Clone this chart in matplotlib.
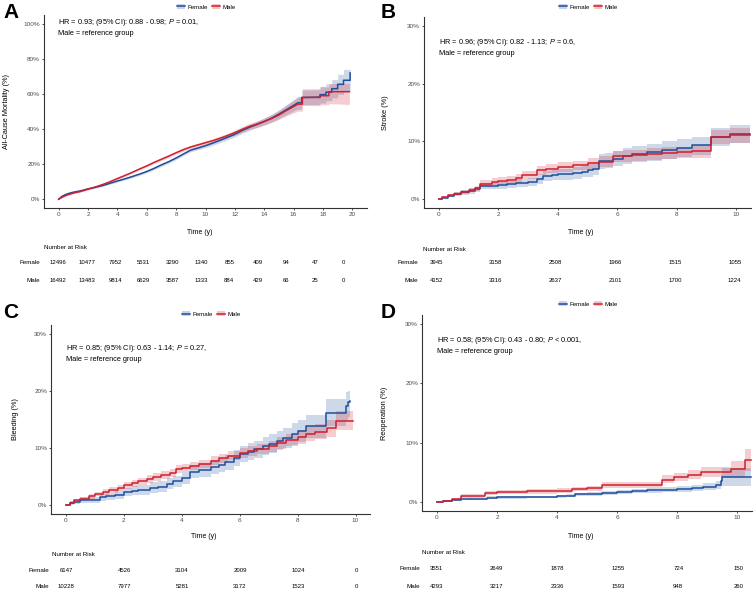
import matplotlib
matplotlib.use('Agg')
import matplotlib.pyplot as plt
from matplotlib.lines import Line2D
from matplotlib.patches import Patch
from matplotlib.legend_handler import HandlerTuple
from matplotlib.transforms import blended_transform_factory

plt.rcParams.update({
    'font.family': 'Liberation Sans',
    'mathtext.fontset': 'custom',
    'mathtext.rm': 'Liberation Sans',
    'mathtext.it': 'Liberation Sans:italic',
})

W, H = 756, 598
BLUE = '#1F4E9D'
RED = '#D01F2E'
GREY = '#4D4D4D'
SPINE = '#333333'

# ── Panel A: all-cause mortality (dense curve, drawn as a line) ──
a_ft = [0, 0.2, 0.5, 0.8, 1.0, 1.5, 2.0, 2.5, 3.0, 3.5, 4.0, 4.5, 5.0, 5.5,
        6.0, 6.5, 7.0, 7.5, 8.0, 8.5, 9.0, 9.5, 10.0, 10.5, 11.0, 11.5, 12.0,
        12.5, 13.0, 13.5, 14.0, 14.5, 15.0, 15.5,
        16.0, 16.3, 16.55, 16.55, 17.8, 17.8, 18.2, 18.2, 18.6, 18.6, 19.0,
        19.0, 19.4, 19.4, 19.85, 19.85]
a_f = [0, 1.5, 2.8, 3.6, 4.0, 4.8, 5.9, 6.8, 7.8, 9.1, 10.4, 11.6, 12.9, 14.3,
       15.8, 17.6, 19.6, 21.4, 23.5, 25.8, 28.0, 29.2, 30.5, 32.0, 33.6, 35.3,
       37.0, 39.2, 41.0, 42.6, 44.3, 46.2, 48.5, 51.0,
       53.5, 55.0, 55.0, 58.0, 58.2, 59.6, 59.6, 61.0, 61.0, 63.0, 63.0,
       65.5, 65.5, 67.8, 67.8, 72.0]
a_f_lo = [0, 1.2, 2.4, 3.2, 3.6, 4.3, 5.4, 6.3, 7.3, 8.6, 9.8, 11.0, 12.2,
          13.6, 15.1, 16.8, 18.8, 20.6, 22.6, 24.9, 27.1, 28.2, 29.4, 30.8,
          32.3, 33.9, 35.5, 37.6, 39.3, 40.8, 42.3, 44.0, 46.0, 48.2,
          50.3, 51.4, 51.4, 53.8, 54.0, 54.8, 54.8, 56.2, 56.2, 57.8, 57.8,
          59.8, 59.8, 61.5, 61.5, 64.0]
a_f_hi = [0, 1.8, 3.2, 4.0, 4.4, 5.3, 6.4, 7.3, 8.3, 9.6, 11.0, 12.2, 13.6,
          15.0, 16.5, 18.4, 20.4, 22.2, 24.4, 26.7, 28.9, 30.2, 31.6, 33.2,
          34.9, 36.7, 38.5, 40.8, 42.7, 44.4, 46.3, 48.4, 51.0, 53.8,
          56.7, 58.6, 58.6, 62.2, 62.4, 64.4, 64.4, 65.8, 65.8, 68.2, 68.2,
          71.2, 71.2, 74.0, 74.0, 74.0]
a_mt = [0, 0.2, 0.5, 0.8, 1.0, 1.5, 2.0, 2.5, 3.0, 3.5, 4.0, 4.5, 5.0, 5.5,
        6.0, 6.5, 7.0, 7.5, 8.0, 8.5, 9.0, 9.5, 10.0, 10.5, 11.0, 11.5, 12.0,
        12.5, 13.0, 13.5, 14.0, 14.5, 15.0, 15.5,
        16.0, 16.3, 16.6, 16.6, 17.8, 17.8, 18.4, 18.4, 19.8]
a_m = [0, 1.0, 2.2, 3.0, 3.5, 4.5, 5.8, 7.0, 8.4, 10.0, 11.8, 13.5, 15.3, 17.2,
       19.0, 21.0, 22.8, 24.6, 26.5, 28.3, 29.8, 31.0, 32.2, 33.4, 34.8, 36.3,
       38.0, 39.8, 41.5, 42.8, 44.3, 46.0, 48.0, 50.5,
       52.8, 54.2, 54.2, 58.0, 58.0, 59.0, 59.0, 61.3, 61.3]
a_m_lo = [0, 0.8, 1.9, 2.7, 3.2, 4.1, 5.4, 6.6, 8.0, 9.6, 11.3, 13.0, 14.8,
          16.6, 18.4, 20.3, 22.1, 23.8, 25.7, 27.4, 28.9, 30.0, 31.2, 32.3,
          33.6, 35.0, 36.6, 38.2, 39.8, 41.0, 42.3, 43.8, 45.5, 47.5,
          49.2, 50.2, 50.2, 53.5, 53.3, 53.8, 53.8, 54.5, 54.0]
a_m_hi = [0, 1.2, 2.5, 3.3, 3.8, 4.9, 6.2, 7.4, 8.8, 10.4, 12.3, 14.0, 15.8,
          17.8, 19.6, 21.7, 23.5, 25.4, 27.3, 29.2, 30.7, 32.0, 33.2, 34.5,
          36.0, 37.6, 39.4, 41.4, 43.2, 44.6, 46.3, 48.2, 50.5, 53.5,
          56.4, 58.2, 58.2, 63.0, 63.0, 64.0, 64.0, 66.0, 66.0]
a_risk_t = [0, 2, 4, 6, 8, 10, 12, 14, 16, 18, 20]
a_risk_f = [12496, 10477, 7952, 5531, 3290, 1340, 855, 409, 94, 47, 0]
a_risk_m = [16492, 13483, 9814, 6629, 3587, 1333, 884, 429, 66, 25, 0]

# ── Panel B: stroke ──────────────────────────────────────────
b_ft = [0, 0.1, 0.3, 0.5, 0.75, 1.0, 1.2, 1.4, 1.8, 2.0, 2.3, 2.6, 3.0, 3.3,
        3.5, 3.8, 4.0, 4.5, 4.8, 5.0, 5.2, 5.4, 5.6, 5.85, 6.2, 6.5, 7.0, 7.5,
        8.0, 8.5, 9.15, 9.8, 10.45]
b_f = [0, 0.3, 0.6, 0.9, 1.2, 1.5, 1.7, 2.3, 2.35, 2.4, 2.6, 2.8, 3.0, 3.5,
       4.0, 4.2, 4.3, 4.5, 4.8, 5.0, 5.3, 6.6, 6.7, 7.0, 7.5, 7.8, 8.1, 8.5,
       8.9, 9.3, 10.8, 11.3, 11.3]
b_f_lo = [0, 0.2, 0.4, 0.6, 0.8, 1.0, 1.2, 1.7, 1.75, 1.8, 1.95, 2.1, 2.3,
          2.7, 3.1, 3.3, 3.4, 3.5, 3.8, 3.9, 4.2, 5.3, 5.4, 5.7, 6.1, 6.4, 6.6,
          7.0, 7.3, 7.6, 9.2, 9.7, 9.7]
b_f_hi = [0, 0.4, 0.8, 1.2, 1.6, 2.0, 2.2, 2.9, 2.95, 3.0, 3.25, 3.5, 3.7,
          4.3, 4.9, 5.1, 5.2, 5.5, 5.8, 6.1, 6.4, 7.9, 8.0, 8.3, 8.9, 9.2, 9.6,
          10.0, 10.5, 10.8, 12.4, 12.9, 12.9]
b_mt = [0, 0.1, 0.3, 0.5, 0.75, 1.0, 1.2, 1.4, 1.8, 2.0, 2.3, 2.6, 2.8, 3.3,
        3.6, 4.0, 4.5, 5.0, 5.4, 5.85, 6.2, 6.5, 7.0, 7.5, 8.0, 8.5, 9.15,
        9.8, 10.45]
b_m = [0, 0.4, 0.7, 1.0, 1.3, 1.6, 1.9, 2.7, 3.0, 3.2, 3.4, 3.6, 4.2, 5.0,
       5.3, 5.6, 5.9, 6.2, 6.5, 7.4, 7.5, 7.6, 7.8, 8.0, 8.1, 8.3, 10.8, 11.1,
       11.1]
b_m_lo = [0, 0.25, 0.5, 0.7, 0.95, 1.2, 1.45, 2.1, 2.4, 2.6, 2.8, 2.9, 3.5,
          4.2, 4.5, 4.8, 5.1, 5.3, 5.6, 6.4, 6.5, 6.6, 6.8, 7.0, 7.1, 7.2, 9.6,
          9.8, 9.8]
b_m_hi = [0, 0.55, 0.9, 1.3, 1.65, 2.0, 2.35, 3.3, 3.6, 3.8, 4.0, 4.3, 4.9,
          5.8, 6.1, 6.4, 6.7, 7.1, 7.4, 8.4, 8.5, 8.6, 8.8, 9.0, 9.1, 9.3, 12.0,
          12.4, 12.4]
b_risk_t = [0, 2, 4, 6, 8, 10]
b_risk_f = [3945, 3158, 2508, 1966, 1515, 1055]
b_risk_m = [4152, 3316, 2637, 2101, 1700, 1224]

# ── Panel C: bleeding ────────────────────────────────────────
c_ft = [0, 0.15, 0.3, 0.5, 0.6, 1.2, 1.4, 1.7, 2.0, 2.3, 2.5, 2.9, 3.2, 3.5,
        3.7, 4.0, 4.3, 4.6, 5.0, 5.3, 5.5, 5.8, 6.0, 6.3, 6.5, 6.8, 7.0, 7.3,
        7.5, 7.8, 8.0, 8.3, 8.99, 9.68, 9.75, 9.8]
c_f = [0, 0.4, 0.6, 0.9, 1.0, 1.4, 1.6, 1.9, 2.3, 2.6, 2.7, 3.1, 3.3, 3.8,
       4.2, 4.8, 5.9, 6.2, 6.7, 7.0, 7.5, 8.3, 9.0, 9.4, 9.8, 10.4, 10.8,
       11.3, 11.8, 12.5, 13.0, 13.8, 16.2, 17.3, 18.0, 18.2]
c_f_lo = [0, 0.1, 0.2, 0.4, 0.5, 0.8, 1.0, 1.2, 1.6, 1.8, 1.9, 2.2, 2.4, 2.8,
          3.2, 3.7, 4.7, 5.0, 5.5, 5.8, 6.2, 6.9, 7.6, 7.9, 8.3, 8.8, 9.2,
          9.6, 10.0, 10.6, 11.1, 11.8, 13.9, 14.8, 15.4, 15.6]
c_f_hi = [0, 0.7, 1.0, 1.4, 1.5, 2.0, 2.2, 2.6, 3.0, 3.4, 3.5, 4.0, 4.2, 4.8,
          5.2, 5.9, 7.1, 7.4, 7.9, 8.2, 8.8, 9.7, 10.4, 10.9, 11.3, 12.0, 12.4,
          13.0, 13.6, 14.4, 14.9, 15.8, 18.5, 19.8, 20.0, 20.0]
c_mt = [0, 0.15, 0.3, 0.5, 0.8, 1.0, 1.3, 1.5, 1.8, 2.0, 2.3, 2.5, 2.8, 3.0,
        3.3, 3.6, 3.8, 4.0, 4.3, 4.6, 5.0, 5.3, 5.6, 6.0, 6.3, 6.6, 7.0, 7.3,
        7.6, 8.0, 8.3, 8.6, 9.0, 9.33, 9.93]
c_m = [0, 0.5, 0.9, 1.2, 1.6, 2.0, 2.4, 2.7, 3.1, 3.5, 3.9, 4.2, 4.6, 5.0,
       5.3, 5.6, 6.3, 6.6, 6.9, 7.3, 7.8, 8.2, 8.7, 9.2, 9.5, 9.8, 10.3, 10.9,
       11.4, 12.0, 12.5, 12.9, 13.5, 14.8, 14.8]
c_m_lo = [0, 0.3, 0.6, 0.9, 1.2, 1.6, 1.9, 2.2, 2.6, 2.9, 3.3, 3.6, 3.9, 4.3,
          4.6, 4.9, 5.6, 5.9, 6.2, 6.6, 7.0, 7.4, 7.9, 8.3, 8.6, 8.9, 9.3, 9.9,
          10.3, 10.8, 11.2, 11.6, 12.0, 13.1, 13.0]
c_m_hi = [0, 0.7, 1.2, 1.5, 2.0, 2.4, 2.9, 3.2, 3.6, 4.1, 4.5, 4.8, 5.3, 5.7,
          6.0, 6.3, 7.0, 7.3, 7.6, 8.0, 8.6, 9.0, 9.5, 10.1, 10.4, 10.7, 11.3,
          11.9, 12.5, 13.2, 13.8, 14.2, 15.0, 16.5, 16.5]
c_risk_t = [0, 2, 4, 6, 8, 10]
c_risk_f = [6147, 4526, 3104, 2009, 1024, 0]
c_risk_m = [10228, 7977, 5281, 3172, 1523, 0]

# ── Panel D: reoperation ─────────────────────────────────────
d_ft = [0, 0.2, 0.5, 0.8, 1.0, 1.65, 2.0, 3.0, 4.0, 4.3, 4.6, 5.0, 5.5, 6.0,
        6.5, 7.0, 7.5, 8.0, 8.5, 8.85, 9.3, 9.45, 9.5, 10.45]
d_f = [0, 0.15, 0.3, 0.45, 0.5, 0.75, 0.8, 0.9, 1.0, 1.1, 1.3, 1.4, 1.5, 1.7,
       1.85, 2.0, 2.1, 2.2, 2.3, 2.6, 2.8, 3.6, 4.3, 4.3]
d_f_lo = [0, 0.05, 0.15, 0.3, 0.35, 0.55, 0.6, 0.7, 0.75, 0.85, 1.0, 1.1,
          1.15, 1.3, 1.45, 1.55, 1.65, 1.7, 1.8, 2.0, 2.2, 2.5, 2.7, 2.7]
d_f_hi = [0, 0.25, 0.45, 0.6, 0.65, 0.95, 1.0, 1.1, 1.25, 1.35, 1.6, 1.7,
          1.85, 2.1, 2.25, 2.45, 2.55, 2.7, 2.8, 3.2, 3.5, 4.8, 5.8, 5.8]
d_mt = [0, 0.2, 0.5, 0.8, 1.0, 1.6, 2.0, 3.0, 4.0, 4.5, 5.0, 5.5, 6.5, 7.0,
        7.5, 7.9, 8.35, 8.8, 9.5, 9.8, 10.25, 10.45]
d_m = [0, 0.2, 0.5, 1.0, 1.05, 1.6, 1.7, 1.8, 1.9, 2.2, 2.3, 2.9, 2.9, 2.9,
       3.8, 4.2, 4.6, 5.0, 5.0, 5.6, 7.1, 7.1]
d_m_lo = [0, 0.05, 0.3, 0.7, 0.75, 1.25, 1.35, 1.4, 1.5, 1.8, 1.9, 2.4, 2.4,
          2.4, 3.2, 3.5, 3.9, 4.2, 4.2, 4.3, 5.3, 5.3]
d_m_hi = [0, 0.35, 0.7, 1.3, 1.35, 1.95, 2.05, 2.2, 2.3, 2.6, 2.7, 3.4, 3.4,
          3.4, 4.5, 4.9, 5.4, 5.9, 5.9, 7.0, 9.0, 9.0]
d_risk_t = [0, 2, 4, 6, 8, 10]
d_risk_f = [3551, 2649, 1878, 1255, 724, 150]
d_risk_m = [4293, 3217, 2336, 1593, 948, 260]

# layout per panel, in pixels of the 756x598 canvas
panels = [
    dict(letter='A', box=(44, 15, 367, 208), xlim=(-1, 21), xticks=range(0, 21, 2),
         ylim=(-5, 105), yticks=range(0, 101, 20), ylabel='All-Cause Mortality (%)',
         ylab_x=10, letter_xy=(3, 13), legend_xy=(206, 7), step=False,
         hr='HR = 0.93; (95% CI): 0.88 - 0.98; $P$ = 0.01,', hr_xy=(58, 23),
         xlab_xy=(200, 232), nar_xy=(44, 248), rows_y=(263, 281), row_lab_x=40,
         tab_px=(58.3, 343.3),
         f=(a_ft, a_f, a_f_lo, a_f_hi), m=(a_mt, a_m, a_m_lo, a_m_hi),
         risk=(a_risk_t, a_risk_f, a_risk_m)),
    dict(letter='B', box=(424, 17, 751, 208), xlim=(-0.5, 10.5), xticks=range(0, 11, 2),
         ylim=(-1.5, 31.5), yticks=range(0, 31, 10), ylabel='Stroke (%)',
         ylab_x=389, letter_xy=(381, 13), legend_xy=(588, 7), step=True,
         hr='HR = 0.96; (95% CI): 0.82 - 1.13; $P$ = 0.6,', hr_xy=(439, 43),
         xlab_xy=(581, 232), nar_xy=(423, 249), rows_y=(263, 281), row_lab_x=418,
         tab_px=(436.3, 734.7),
         f=(b_ft, b_f, b_f_lo, b_f_hi), m=(b_mt, b_m, b_m_lo, b_m_hi),
         risk=(b_risk_t, b_risk_f, b_risk_m)),
    dict(letter='C', box=(51, 325, 370, 514), xlim=(-0.5, 10.5), xticks=range(0, 11, 2),
         ylim=(-1.5, 31.5), yticks=range(0, 31, 10), ylabel='Bleeding (%)',
         ylab_x=19, letter_xy=(3, 313), legend_xy=(211, 314), step=True,
         hr='HR = 0.85; (95% CI): 0.63 - 1.14; $P$ = 0.27,', hr_xy=(66, 349),
         xlab_xy=(204, 537), nar_xy=(52, 554), rows_y=(570, 586), row_lab_x=49,
         tab_px=(66, 356),
         f=(c_ft, c_f, c_f_lo, c_f_hi), m=(c_mt, c_m, c_m_lo, c_m_hi),
         risk=(c_risk_t, c_risk_f, c_risk_m)),
    dict(letter='D', box=(422, 315, 752, 511), xlim=(-0.5, 10.5), xticks=range(0, 11, 2),
         ylim=(-1.5, 31.5), yticks=range(0, 31, 10), ylabel='Reoperation (%)',
         ylab_x=388, letter_xy=(381, 312), legend_xy=(588, 304), step=True,
         hr='HR = 0.58; (95% CI): 0.43 - 0.80; $P$ < 0.001,', hr_xy=(437, 341),
         xlab_xy=(581, 536), nar_xy=(422, 553), rows_y=(569, 586), row_lab_x=420,
         tab_px=(436.3, 738.7),
         f=(d_ft, d_f, d_f_lo, d_f_hi), m=(d_mt, d_m, d_m_lo, d_m_hi),
         risk=(d_risk_t, d_risk_f, d_risk_m)),
]


def fx(px):
    return px / W


def fy(py):
    return 1 - py / H


def draw_panel(fig, p):
    x0, y0, x1, y1 = p['box']
    ax = fig.add_axes([fx(x0), fy(y1), fx(x1) - fx(x0), fy(y0) - fy(y1)])
    ax.set_facecolor('none')

    curves = ((p['f'], BLUE), (p['m'], RED))
    for (t, est, lo, hi), col in curves:
        if p['step']:
            ax.fill_between(t, lo, hi, step='post', color=col, alpha=0.22, lw=0)
        else:
            ax.fill_between(t, lo, hi, color=col, alpha=0.22, lw=0)
    for (t, est, lo, hi), col in curves:
        if p['step']:
            ax.step(t, est, where='post', color=col, lw=1.1)
        else:
            ax.plot(t, est, color=col, lw=1.1)

    ax.set_xlim(*p['xlim'])
    ax.set_ylim(*p['ylim'])
    ax.set_xticks(list(p['xticks']))
    ax.set_yticks(list(p['yticks']))
    ax.set_yticklabels([f'{v}%' for v in p['yticks']])
    for s in ('top', 'right'):
        ax.spines[s].set_visible(False)
    for s in ('left', 'bottom'):
        ax.spines[s].set_color(SPINE)
        ax.spines[s].set_linewidth(0.8)
    ax.tick_params(length=1.6, width=0.6, color=SPINE, pad=1.2,
                   labelsize=4.6, labelcolor=GREY)
    ax.set_ylabel(p['ylabel'], fontsize=5.3)
    ax.yaxis.set_label_coords((p['ylab_x'] - x0) / (x1 - x0), 0.5)

    # panel letter, legend, HR annotation
    fig.text(fx(p['letter_xy'][0]), fy(p['letter_xy'][1]), p['letter'],
             fontsize=15, fontweight='bold', va='center', ha='left')
    handles = [(Patch(fc=BLUE, alpha=0.25, lw=0), Line2D([], [], color=BLUE, lw=1.1)),
               (Patch(fc=RED, alpha=0.25, lw=0), Line2D([], [], color=RED, lw=1.1))]
    fig.legend(handles, ['Female', 'Male'], loc='center',
               bbox_to_anchor=(fx(p['legend_xy'][0]), fy(p['legend_xy'][1])),
               ncol=2, frameon=False, fontsize=4.4, handlelength=1.3,
               handleheight=0.9, handletextpad=0.4, columnspacing=0.7,
               borderpad=0, handler_map={tuple: HandlerTuple(ndivide=1)})
    hx, hy = p['hr_xy']
    fig.text(fx(hx), fy(hy), p['hr'], fontsize=5.3, va='center')
    fig.text(fx(hx), fy(hy + 10.5), 'Male = reference group', fontsize=5.3, va='center')

    # x title and risk table
    fig.text(fx(p['xlab_xy'][0]), fy(p['xlab_xy'][1]), 'Time (y)',
             fontsize=5.0, ha='center', va='center')
    fig.text(fx(p['nar_xy'][0]), fy(p['nar_xy'][1]), 'Number at Risk',
             fontsize=4.5, ha='left', va='center')

    times, fem, mal = p['risk']
    tp0, tp1 = p['tab_px']
    scale = (tp1 - tp0) / times[-1]
    tab = fig.add_axes([fx(x0), fy(y1), fx(x1) - fx(x0), 0.001])
    tab.axis('off')
    tab.set_xlim((x0 - tp0) / scale, (x1 - tp0) / scale)
    tr = blended_transform_factory(tab.transData, fig.transFigure)
    for label, counts, ry in (('Female', fem, p['rows_y'][0]),
                              ('Male', mal, p['rows_y'][1])):
        fig.text(fx(p['row_lab_x']), fy(ry), label, fontsize=4.5,
                 ha='right', va='center')
        for t, n in zip(times, counts):
            tab.text(t, fy(ry), str(n), transform=tr, fontsize=4.3,
                     ha='center', va='center')


fig = plt.figure(figsize=(W / 100, H / 100), dpi=100)
for p in panels:
    draw_panel(fig, p)
fig.savefig('out.png', dpi=100)
